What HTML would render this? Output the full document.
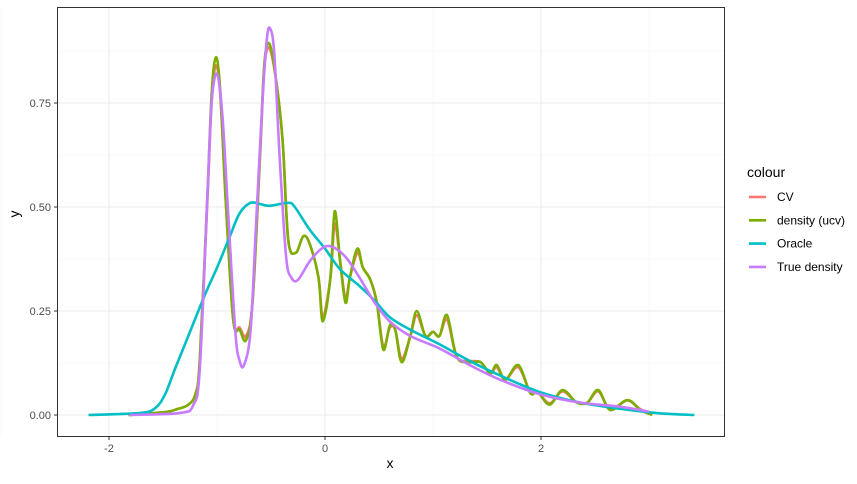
<!DOCTYPE html>
<html><head><meta charset="utf-8"><style>
body{margin:0;background:#fff;font-family:"Liberation Sans",sans-serif}
</style></head><body>
<svg id="chart" width="857" height="479" xmlns="http://www.w3.org/2000/svg" font-family="Liberation Sans, sans-serif">
<rect width="857" height="479" fill="#fff"/>
<g id="grid"></g>
<g id="series"></g>
<rect x="57.5" y="7.5" width="667" height="429" fill="none" stroke="#333" stroke-width="1"/>
<g id="axes"></g>
<text x="390" y="468" font-size="14" text-anchor="middle" fill="#000">x</text>
<text x="0" y="0" font-size="14" text-anchor="middle" fill="#000" transform="translate(19,214) rotate(-90)">y</text>
<g id="legend">
<text x="747" y="177" font-size="14" fill="#000">colour</text>
</g>
</svg>
<script>
const xTicks=[-2,0,2];
const yTicks=[0,0.25,0.5,0.75];
const xMinor=[-3,-1,1,3];
const yMinor=[0.125,0.375,0.625,0.875];
const legendLabels=["CV","density (ucv)","Oracle","True density"];
const legendColors=["#F8766D","#7CAE00","#00BFC4","#C77CFF"];

const trueX=[-1.81,-1.34,-1.22,-1.16,-1.09,-1.05,-1.00,-0.95,-0.90,-0.83,-0.79,-0.75,-0.69,-0.64,-0.58,-0.54,-0.51,-0.47,-0.42,-0.36,-0.31,-0.25,-0.14,-0.03,0.06,0.19,0.32,0.46,0.60,0.79,1.06,1.34,1.62,1.99,2.36,2.73,3.0];
const trueY=[0,0.005,0.024,0.108,0.52,0.75,0.82,0.72,0.50,0.20,0.13,0.12,0.20,0.45,0.75,0.90,0.93,0.87,0.62,0.38,0.33,0.325,0.37,0.40,0.405,0.38,0.33,0.27,0.225,0.19,0.16,0.12,0.085,0.05,0.03,0.02,0.008];

const oracleX=[-2.19,-1.71,-1.57,-1.48,-1.39,-1.25,-1.11,-0.99,-0.88,-0.79,-0.69,-0.60,-0.51,-0.34,-0.28,-0.14,0,0.14,0.32,0.46,0.60,0.79,1.06,1.34,1.62,1.99,2.36,2.73,3.10,3.42];
const oracleY=[0,0.005,0.017,0.05,0.11,0.2,0.29,0.36,0.43,0.485,0.51,0.507,0.503,0.51,0.50,0.445,0.40,0.35,0.31,0.275,0.235,0.205,0.17,0.13,0.095,0.055,0.03,0.015,0.004,0];

const ucvX=[-1.82,-1.48,-1.36,-1.27,-1.20,-1.16,-1.09,-1.05,-1.01,-0.97,-0.92,-0.85,-0.79,-0.73,-0.67,-0.60,-0.56,-0.51,-0.44,-0.39,-0.34,-0.27,-0.20,-0.14,-0.06,-0.02,0.05,0.09,0.14,0.19,0.23,0.30,0.35,0.42,0.48,0.54,0.60,0.65,0.71,0.79,0.85,0.93,1.00,1.06,1.13,1.22,1.34,1.44,1.53,1.59,1.67,1.79,1.90,1.97,2.08,2.20,2.33,2.43,2.53,2.64,2.80,2.92,3.03];
const ucvY=[0,0.007,0.015,0.024,0.05,0.13,0.52,0.77,0.86,0.78,0.52,0.23,0.205,0.18,0.275,0.64,0.85,0.89,0.78,0.65,0.42,0.39,0.43,0.41,0.33,0.225,0.33,0.49,0.37,0.27,0.33,0.40,0.355,0.325,0.27,0.157,0.215,0.205,0.127,0.19,0.25,0.19,0.20,0.19,0.24,0.14,0.127,0.127,0.10,0.12,0.085,0.12,0.053,0.055,0.025,0.06,0.03,0.03,0.06,0.012,0.036,0.012,0];
const cvY=[0,0.007,0.015,0.024,0.05,0.13,0.51,0.75,0.84,0.77,0.52,0.23,0.21,0.19,0.275,0.63,0.84,0.88,0.78,0.65,0.42,0.39,0.43,0.41,0.33,0.235,0.33,0.46,0.37,0.28,0.33,0.39,0.355,0.325,0.27,0.165,0.21,0.205,0.135,0.19,0.24,0.19,0.20,0.19,0.23,0.14,0.13,0.127,0.10,0.115,0.085,0.115,0.055,0.055,0.028,0.057,0.03,0.03,0.057,0.014,0.035,0.014,0];

const NS="http://www.w3.org/2000/svg";
const sx=v=>325+108*v;
const sy=v=>415-416*v;

function mk(tag,attrs,parent){const e=document.createElementNS(NS,tag);for(const k in attrs)e.setAttribute(k,attrs[k]);parent.appendChild(e);return e;}

const grid=document.getElementById('grid');
xMinor.forEach(v=>{const l=mk('line',{x1:sx(v),x2:sx(v),y1:7.5,y2:436.5,stroke:'#f3f3f3','stroke-width':0.6},grid);

});
yMinor.forEach(v=>{const l=mk('line',{x1:57.5,x2:724.5,y1:sy(v),y2:sy(v),stroke:'#f3f3f3','stroke-width':0.6},grid);

});
xTicks.forEach(v=>{const l=mk('line',{x1:sx(v),x2:sx(v),y1:7.5,y2:436.5,stroke:'#ebebeb','stroke-width':1.1},grid);

});
yTicks.forEach(v=>{const l=mk('line',{x1:57.5,x2:724.5,y1:sy(v),y2:sy(v),stroke:'#ebebeb','stroke-width':1.1},grid);

});

const axes=document.getElementById('axes');
xTicks.forEach(v=>{
 const t=mk('line',{x1:sx(v),x2:sx(v),y1:436.5,y2:440,stroke:'#333','stroke-width':1},axes);
 
 
 const tx=mk('text',{x:sx(v),y:452,'font-size':11,'text-anchor':'middle',fill:'#4d4d4d'},axes);
 tx.textContent=String(v);
 
 
});
yTicks.forEach(v=>{
 const t=mk('line',{x1:54,x2:57.5,y1:sy(v),y2:sy(v),stroke:'#333','stroke-width':1},axes);
 
 
 const tx=mk('text',{x:51,y:sy(v)+4,'font-size':11,'text-anchor':'end',fill:'#4d4d4d'},axes);
 tx.textContent=v.toFixed(2);
 
 
});

function smooth(xs,ys){
 const p=xs.map((x,i)=>[sx(x),sy(ys[i])]);
 let d='M'+p[0][0]+','+p[0][1];
 for(let i=0;i<p.length-1;i++){
  const p0=p[i-1]||p[i],p1=p[i],p2=p[i+1],p3=p[i+2]||p2;
  const c1=[p1[0]+(p2[0]-p0[0])/6,p1[1]+(p2[1]-p0[1])/6];
  const c2=[p2[0]-(p3[0]-p1[0])/6,p2[1]-(p3[1]-p1[1])/6];
  d+=' C'+c1[0].toFixed(2)+','+c1[1].toFixed(2)+' '+c2[0].toFixed(2)+','+c2[1].toFixed(2)+' '+p2[0].toFixed(2)+','+p2[1].toFixed(2);
 }
 return d;
}
const series=document.getElementById('series');
const sdefs=[[ucvX,cvY,0,'cv-line'],[ucvX,ucvY,1,'density-ucv-line'],[oracleX,oracleY,2,'oracle-line'],[trueX,trueY,3,'true-density-line']];
sdefs.forEach(s=>{
 const p=mk('path',{d:smooth(s[0],s[1]),fill:'none',stroke:legendColors[s[2]],'stroke-width':2.6,'stroke-linejoin':'round','stroke-linecap':'butt'},series);
 
 
});

const lg=document.getElementById('legend');
legendLabels.forEach((lab,i)=>{
 const y=197+i*23.3;
 const k=mk('line',{x1:749,x2:766,y1:y,y2:y,stroke:legendColors[i],'stroke-width':2.6},lg);
 
 
 const t=mk('text',{x:777,y:y+4,'font-size':12,fill:'#000'},lg);
 t.textContent=lab;
 
 
});
</script>
</body></html>
